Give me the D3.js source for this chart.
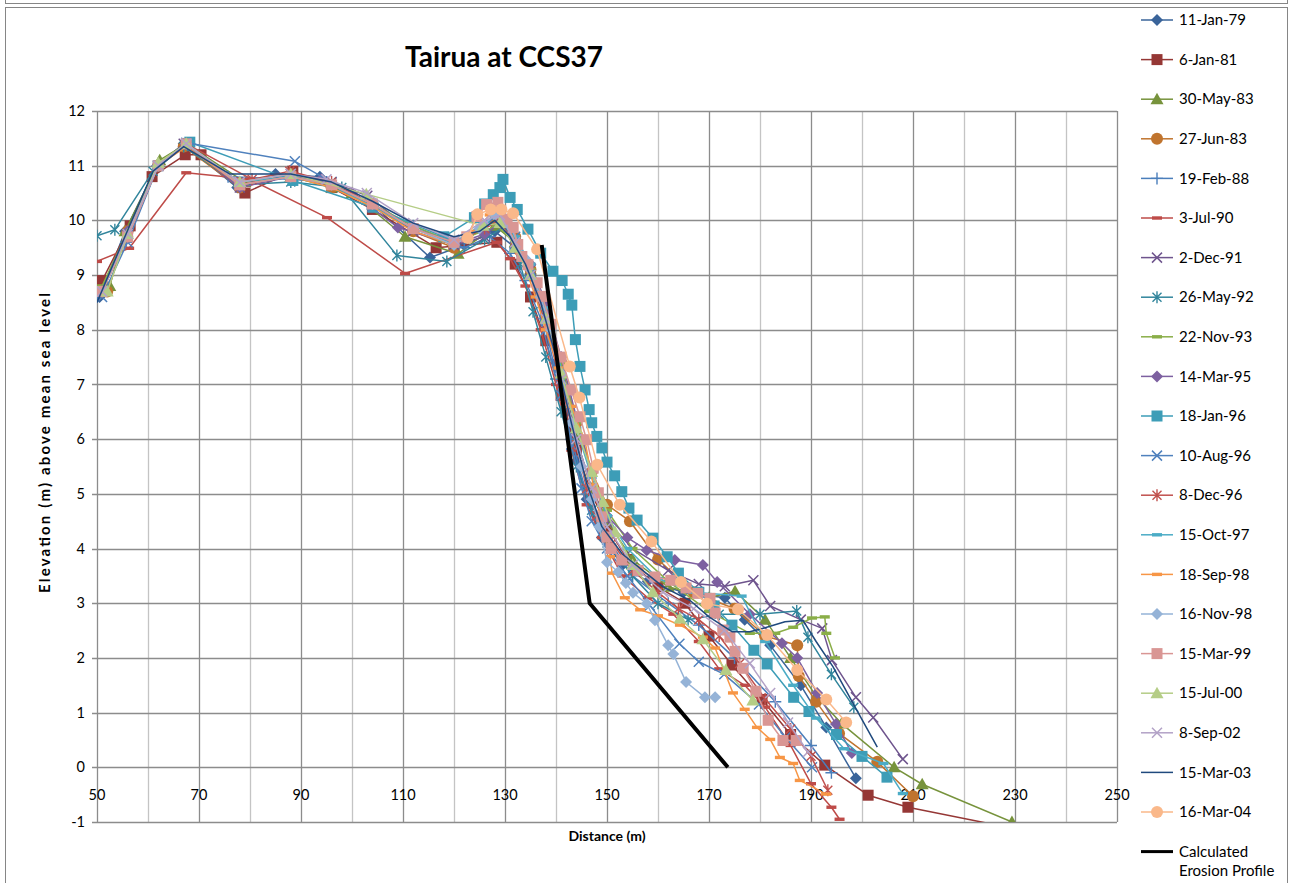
<!DOCTYPE html>
<html>
<head>
<meta charset="utf-8">
<style>
    body { margin: 0; background: #fff; font-family: Lato, 'Noto Sans', sans-serif; }
    svg text { fill: #000; }
</style>
</head>
<body>
<svg width="1293" height="883" id="chart"></svg>
<script src="https://d3js.org/d3.v7.min.js"></script>
<script>

// survey profiles: [distance (m), elevation (m)]
var jan79 = [[50.5,8.6],[55.5,9.8],[61.8,11.0],[67,11.4],[77.5,10.6],[85,10.85],[93.7,10.8],[104,10.3],[115.3,9.32],[122,9.55],[128,9.8],[132,9.5],[135,9.0],[138,8.2],[140,7.4],[142,6.5],[144,5.6],[146,4.9],[149,4.2],[153,3.7],[158,3.4],[165,3.2],[173.1,3.1],[177,2.7],[182,2.23],[188,1.5],[193,0.73],[198.8,-0.2]];
var jan81 = [[51,8.9],[56.5,9.9],[60.8,10.8],[67.3,11.2],[70.4,11.2],[79,10.5],[88.4,10.9],[96,10.6],[104,10.2],[116.5,9.5],[128.4,9.6],[132,9.2],[135,8.6],[138,7.8],[141,6.8],[144,5.8],[147,5.0],[150,4.4],[154,3.8],[160,3.3],[165.3,3.0],[170,2.4],[174.5,1.87],[180.4,1.24],[186,0.6],[192.7,0.04],[201.2,-0.51],[209,-0.73],[240,-1.31]];
var may83 = [[52.5,8.8],[55.5,9.8],[62.3,11.1],[67.5,11.4],[79,10.7],[88,10.8],[96,10.6],[100,10.5],[110.4,9.7],[120.8,9.39],[128,9.9],[132,9.6],[135,9.1],[138,8.3],[141,7.2],[144,6.0],[147,5.1],[150,4.5],[155,3.8],[162,3.3],[170,3.1],[175.1,3.22],[181,2.7],[186,2.0],[191,1.3],[196,0.8],[206.3,0.0],[211.8,-0.31],[229.4,-1.0]];
var jun83 = [[52,8.7],[56,9.8],[62,11.0],[67,11.35],[78,10.6],[88,10.85],[96,10.6],[104,10.3],[112,9.8],[120,9.5],[128,10.0],[132,9.7],[135,9.1],[138,8.4],[141,7.4],[144,6.3],[147,5.4],[150,4.8],[154.5,4.5],[160,3.8],[167,3.2],[175,2.9],[181,2.4],[187.3,2.23],[187.6,1.67],[191,1.2],[195.5,0.62],[203,0.1],[210,-0.53]];
var feb88 = [[50,8.6],[55.7,9.6],[62,11.0],[67.5,11.4],[75.7,10.8],[88,10.75],[95,10.7],[103,10.3],[112,9.9],[122,9.5],[127,9.7],[131,9.4],[134,8.9],[137,8.2],[140,7.1],[143,6.0],[146,5.0],[150,4.2],[155,3.5],[162,3.0],[168,2.6],[175,2.0],[183,1.2],[190,0.4],[194,-0.1]];
var jul90 = [[50,9.25],[56.3,9.49],[67.5,10.87],[80,10.75],[95.1,10.05],[110.4,9.03],[128.4,9.6],[131,9.3],[134,8.8],[137,8.0],[140,7.0],[143,5.8],[146,4.8],[149,4.2],[153,3.5],[158,3.1],[163,2.8],[168,2.3],[172,1.8],[177,1.5],[181,1.1],[186,0.4],[190,-0.3],[194,-0.73],[195.6,-0.95]];
var dec91 = [[51,8.7],[56,9.75],[62,11.0],[67,11.4],[78,10.6],[88,10.85],[96,10.7],[103,10.45],[112,9.8],[120,9.55],[126,9.7],[129,10.0],[132,9.6],[135,9.1],[138,8.3],[141,7.2],[144,6.0],[147,5.1],[150,4.5],[155,4.0],[162,3.6],[168,3.35],[173.1,3.31],[178.7,3.42],[182,2.95],[188,2.7],[192.2,2.54],[194.1,1.96],[198.8,1.28],[202.2,0.91],[208,0.15]];
var may92 = [[50,9.72],[53.5,9.83],[61,10.9],[67,11.35],[78,10.65],[88,10.7],[98,10.6],[108.8,9.36],[118.6,9.25],[126,9.65],[130,9.9],[133,9.2],[135.5,8.33],[138,7.5],[141,6.5],[144,5.5],[147,4.7],[150,4.1],[155,3.5],[160,3.0],[165.9,2.7],[172,2.8],[180,2.8],[187.2,2.86],[189.4,2.38],[194,1.7],[198.4,1.1]];
var nov93 = [[51,8.8],[56,9.8],[62,11.05],[67.5,11.4],[78,10.65],[88,10.8],[96,10.65],[104,10.3],[112,9.9],[120,9.6],[128.4,9.9],[132,9.6],[135,9.1],[138,8.4],[141,7.4],[144,6.3],[147,5.4],[150,4.7],[155,4.0],[162,3.4],[170,2.85],[178,2.45],[183,2.45],[186.5,2.56],[190.2,2.73],[192.7,2.75],[193,2.45],[194.7,2.0]];
var mar95 = [[51,8.7],[56,9.8],[62,11.0],[67.5,11.4],[78,10.6],[88,10.8],[94,10.75],[100,10.5],[109,9.87],[120,9.56],[126,9.75],[129,9.95],[132,9.6],[135,9.2],[138,8.5],[141,7.5],[144,6.4],[147,5.4],[150,4.6],[154,4.2],[157.8,3.97],[163.3,3.79],[168.8,3.7],[171.6,3.39],[178,2.8],[184.3,2.27],[187.3,2.0],[191.2,1.36],[194.9,0.79],[198,0.26]];
var jan96 = [[62,11.0],[68.2,11.43],[88.4,10.73],[104.1,10.24],[118,9.7],[124,10.05],[126,10.3],[127.7,10.47],[129,10.6],[129.6,10.75],[131,10.42],[132.4,10.2],[134.5,9.84],[137,9.4],[139.4,9.07],[141.2,8.9],[142.4,8.65],[143.1,8.45],[143.8,7.82],[144.7,7.33],[145.7,6.9],[146.5,6.54],[147,6.3],[148,6.05],[149,5.84],[150,5.58],[151.5,5.33],[152.9,5.04],[154.3,4.74],[155.9,4.52],[159,4.19],[161.8,3.85],[164,3.55],[168,3.2],[171,2.95],[174.5,2.6],[178.8,2.14],[181.4,1.89],[186.6,1.28],[189.6,1.02],[195,0.6],[200,0.2],[204.9,-0.18]];
var aug96 = [[51,8.6],[56,9.6],[62,11.0],[67.5,11.42],[88.8,11.08],[96,10.7],[104,10.25],[112,9.85],[120,9.6],[126,9.9],[129,10.15],[132,9.7],[135,9.0],[138,8.0],[141,6.8],[143,5.9],[145,5.1],[147,4.5],[150,4.0],[154,3.5],[158.4,2.96],[164.2,2.26],[168,1.93],[173,1.7],[179.8,1.15],[185,0.55],[190.2,0.0]];
var dec96 = [[51,8.7],[56,9.7],[62,11.0],[67.5,11.4],[80.4,10.75],[87.8,10.9],[96,10.7],[104,10.3],[112,9.85],[120,9.6],[126,9.85],[129,10.0],[132,9.5],[135,9.0],[138,8.1],[141,7.0],[144,5.9],[146,5.1],[148,4.6],[151,4.1],[155,3.6],[160,3.2],[164,2.9],[168,2.7],[172,2.4],[176,1.9],[181,1.25],[186,0.7],[190,0.2],[193.3,-0.42]];
var oct97 = [[51,8.7],[56,9.75],[62,11.0],[67.5,11.4],[78,10.7],[88,10.8],[96,10.65],[104,10.25],[112,9.85],[120,9.6],[126,9.95],[129,10.2],[132,9.7],[135,9.2],[138,8.4],[141,7.3],[144,6.2],[147,5.3],[150,4.6],[154,4.0],[160,3.45],[167,3.2],[176.4,3.13],[181,2.3],[186.5,1.5],[191,0.9],[196.5,0.34],[204.2,0.07],[208,-0.48]];
var sep98 = [[51,8.7],[56,9.7],[62,11.0],[67.5,11.35],[78,10.65],[88,10.8],[96,10.6],[104,10.25],[112,9.8],[120,9.55],[124,9.8],[127,10.1],[130,10.0],[133,9.4],[136,8.6],[138,8.0],[140.5,7.3],[143,6.6],[145.7,5.96],[147.3,5.16],[149.6,4.25],[150.6,3.85],[151,3.55],[153.5,3.1],[156.5,2.88],[160,2.77],[164.3,2.6],[168.8,2.38],[171.2,2.18],[174.7,1.36],[177,1.06],[179.4,0.73],[182,0.51],[183.9,0.18],[186.5,0.07],[187.8,-0.24],[193,-0.49]];
var nov98 = [[51,8.7],[56,9.7],[62,11.0],[67.5,11.4],[78,10.65],[88,10.8],[96,10.65],[104,10.3],[112,9.85],[120,9.55],[125,9.85],[128,10.1],[131,9.9],[134,9.3],[137,8.6],[139,8.0],[141,7.2],[143,6.3],[145,5.5],[147,4.9],[148.5,4.4],[150,3.75],[152.2,3.57],[153.7,3.37],[155.1,3.19],[157.8,2.99],[159.4,2.69],[162,2.23],[163,2.07],[165.5,1.56],[169.2,1.28],[171.2,1.28]];
var mar99 = [[51,8.7],[56,9.7],[62,11.0],[67.5,11.4],[78,10.65],[88,10.8],[96,10.65],[104,10.3],[112,9.85],[120,9.6],[122.5,9.7],[124.5,10.07],[126.4,10.29],[128.6,10.33],[130.4,10.02],[131.6,9.87],[132.5,9.56],[133.3,9.34],[134.5,9.19],[136.3,8.86],[137.3,8.61],[139,8.1],[141,7.5],[143,6.9],[144.7,6.41],[146,5.99],[147.3,5.47],[148.3,5.02],[149,4.58],[150,4.21],[150.8,4.0],[152.9,3.79],[156.1,3.6],[159.4,3.48],[162.5,3.42],[165.5,3.28],[167.8,3.18],[170.2,3.09],[171.2,2.82],[172.7,2.51],[174.1,2.38],[175.1,2.12],[176.7,1.81],[179.2,1.39],[181.6,0.86],[184.5,0.49],[187.1,0.49]];
var jul00 = [[52,8.7],[56,9.75],[62,11.05],[67.5,11.4],[78,10.7],[88,10.85],[102.8,10.48],[125.7,9.9],[129,9.95],[132,9.5],[135,9.0],[138,8.2],[141,7.2],[144,6.2],[147,5.4],[149.2,4.85],[151.6,4.3],[155,3.7],[159,3.2],[164.3,2.72],[168.8,2.34],[173.3,1.78],[178.6,1.22]];
var sep02 = [[51,8.7],[56,9.75],[62,11.0],[67.5,11.4],[78,10.7],[88,10.85],[95,10.75],[102.9,10.5],[112,9.95],[120,9.65],[126,10.0],[129,10.1],[132,9.6],[135,9.0],[138,8.2],[141,7.1],[144,6.0],[147,5.1],[150,4.4],[155,3.7],[161,3.2],[167,2.9],[173,2.5],[178,1.9],[182,1.36],[185.5,0.82],[189.4,0.28]];
var mar03 = [[50,8.5],[55,9.6],[61,10.9],[67,11.35],[76,10.85],[88,10.85],[96,10.7],[104,10.35],[112,9.95],[120,9.7],[125,9.8],[128,10.0],[131,9.7],[134,9.2],[137,8.5],[140,7.5],[143,6.3],[146,5.2],[149,4.4],[153,3.9],[157,3.6],[161,3.3],[166.3,3.05],[170,2.75],[174.5,2.48],[178,2.48],[181,2.55],[184.9,2.66],[188.4,2.69],[191,2.3],[194.3,1.84],[199,1.04],[203,0.37]];
var mar04 = [[122.7,9.68],[124.6,10.11],[127.2,10.2],[129.3,10.2],[131.6,10.13],[136.3,9.47],[142.7,7.33],[144.6,6.76],[148.1,5.53],[152.5,4.8],[158.7,4.13],[164.5,3.39],[169.6,2.99],[175.7,2.89],[181.4,2.42],[187.3,1.78],[193,1.24],[196.9,0.82]];
var erosion = [[137.2,9.55],[146.6,3.0],[173.7,0]];

var seriesNames = ["11-Jan-79","6-Jan-81","30-May-83","27-Jun-83","19-Feb-88","3-Jul-90","2-Dec-91","26-May-92","22-Nov-93","14-Mar-95","18-Jan-96","10-Aug-96","8-Dec-96","15-Oct-97","18-Sep-98","16-Nov-98","15-Mar-99","15-Jul-00","8-Sep-02","15-Mar-03","16-Mar-04","Calculated Erosion Profile"];
var seriesData = [jan79, jan81, may83, jun83, feb88, jul90, dec91, may92, nov93, mar95, jan96, aug96, dec96, oct97, sep98, nov98, mar99, jul00, sep02, mar03, mar04, erosion];

var xTicks = [50,70,90,110,130,150,170,190,210,230,250];
var yTicks = [-1,0,1,2,3,4,5,6,7,8,9,10,11,12];

// styling
var colors = ["#3A649A","#953735","#77933C","#C0742E","#4A7EBB","#BE4B48","#6E548D","#31859C","#8AAE48","#7D60A0","#3D9DB7","#4F81BD","#C0504D","#4BACC6","#F79646","#95B3D7","#D99694","#B5CD86","#B3A2C7","#1F497D","#FAB88A","#000000"];
var markers = ["diamond","square","triangle","circle","plus","dash","x","star","dash","diamond","square","x","star","dash","dash","diamond","square","triangle","x","none","circle","none"];

var svg = d3.select("svg");

// outer frames
svg.append("rect").attr("x", 5.5).attr("y", -10).attr("width", 1282).attr("height", 13.5)
    .attr("fill", "none").attr("stroke", "#868686");
svg.append("rect").attr("x", 5.5).attr("y", 7.5).attr("width", 1282).attr("height", 890)
    .attr("fill", "#fff").attr("stroke", "#868686");

var x = d3.scaleLinear().domain([50, 250]).range([97, 1117]);
var y = d3.scaleLinear().domain([-1, 12]).range([822, 111]);

// grid
var g = svg.append("g");
g.selectAll(".vg").data(d3.range(50, 251, 10)).enter().append("line")
    .attr("x1", function(d) { return Math.round(x(d)) + 0.5; })
    .attr("x2", function(d) { return Math.round(x(d)) + 0.5; })
    .attr("y1", y(12)).attr("y2", y(-1))
    .attr("stroke", function(d) { return (d - 50) % 20 === 0 ? "#8c8c8c" : "#c4c4c4"; })
    .attr("stroke-width", 1.3);
g.selectAll(".hg").data(yTicks).enter().append("line")
    .attr("x1", x(50) - 5).attr("x2", x(250))
    .attr("y1", function(d) { return Math.round(y(d)) + 0.5; })
    .attr("y2", function(d) { return Math.round(y(d)) + 0.5; })
    .attr("stroke", "#8c8c8c").attr("stroke-width", 1.3);

// axis labels
g.selectAll(".yl").data(yTicks).enter().append("text")
    .attr("x", 85).attr("y", function(d) { return y(d); })
    .attr("dy", "0.35em").attr("text-anchor", "end").attr("font-size", 14.5)
    .text(function(d) { return d; });
g.selectAll(".xl").data(xTicks).enter().append("text")
    .attr("x", function(d) { return x(d); }).attr("y", y(0) + 33)
    .attr("text-anchor", "middle").attr("font-size", 14.5)
    .text(function(d) { return d; });

svg.append("text").attr("x", 504).attr("y", 67).attr("text-anchor", "middle")
    .attr("font-size", 28).attr("font-weight", "bold").text("Tairua at CCS37");
svg.append("text").attr("x", 607).attr("y", 841).attr("text-anchor", "middle")
    .attr("font-size", 14).attr("font-weight", "bold").text("Distance  (m)");
svg.append("text").attr("transform", "translate(50,443) rotate(-90)").attr("text-anchor", "middle")
    .attr("font-size", 15).attr("font-weight", "bold")
    .attr("textLength", 300).attr("lengthAdjust", "spacing").text("Elevation (m) above mean sea level");

svg.append("clipPath").attr("id", "plot").append("rect")
    .attr("x", x(50)).attr("y", y(12) - 6).attr("width", x(250) - x(50)).attr("height", y(-1) - y(12) + 6);

function drawMarker(sel, type, color) {
    if (type === "diamond") sel.append("path").attr("d", "M0,-6L6,0L0,6L-6,0Z").attr("fill", color);
    else if (type === "square") sel.append("rect").attr("x", -5.5).attr("y", -5.5).attr("width", 11).attr("height", 11).attr("fill", color);
    else if (type === "triangle") sel.append("path").attr("d", "M0,-6.5L6.5,5L-6.5,5Z").attr("fill", color);
    else if (type === "circle") sel.append("circle").attr("r", 6).attr("fill", color);
    else if (type === "plus") sel.append("path").attr("d", "M-6,0H6M0,-6V6").attr("stroke", color).attr("stroke-width", 1.4);
    else if (type === "dash") sel.append("rect").attr("x", -5).attr("y", -1.7).attr("width", 10).attr("height", 3.4).attr("fill", color);
    else if (type === "x") sel.append("path").attr("d", "M-5,-5L5,5M-5,5L5,-5").attr("stroke", color).attr("stroke-width", 1.5);
    else if (type === "star") sel.append("path").attr("d", "M-4.5,-4.5L4.5,4.5M-4.5,4.5L4.5,-4.5M0,-6V6").attr("stroke", color).attr("stroke-width", 1.4);
}

var line = d3.line().x(function(d) { return x(d[0]); }).y(function(d) { return y(d[1]); });
var plot = svg.append("g").attr("clip-path", "url(#plot)");

seriesData.forEach(function(data, i) {
    var sg = plot.append("g");
    sg.append("path").datum(data).attr("d", line).attr("fill", "none")
        .attr("stroke", colors[i]).attr("stroke-width", i === 21 ? 4 : 1.5)
        .attr("stroke-linejoin", "round");
    if (markers[i] !== "none") {
        sg.selectAll("g").data(data).enter().append("g")
            .attr("transform", function(d) { return "translate(" + x(d[0]) + "," + y(d[1]) + ")"; })
            .each(function() { drawMarker(d3.select(this), markers[i], colors[i]); });
    }
});

// legend
var legend = svg.append("g").selectAll("g").data(seriesNames).enter().append("g")
    .attr("transform", function(d, i) { return "translate(0," + (20 + i * 39.6) + ")"; });
legend.append("line").attr("x1", 1141).attr("x2", 1173).attr("y1", 0).attr("y2", 0)
    .attr("stroke", function(d, i) { return colors[i]; })
    .attr("stroke-width", function(d, i) { return i === 21 ? 3 : 1.5; });
legend.each(function(d, i) {
    if (markers[i] !== "none") {
        drawMarker(d3.select(this).append("g").attr("transform", "translate(1157,0)"), markers[i], colors[i]);
    }
});
legend.append("text").attr("x", 1179).attr("dy", "0.35em").attr("font-size", 15)
    .each(function(d) {
        var t = d3.select(this);
        if (d === "Calculated Erosion Profile") {
            t.append("tspan").attr("x", 1179).text("Calculated");
            t.append("tspan").attr("x", 1179).attr("dy", "1.25em").text("Erosion Profile");
        } else {
            t.text(d);
        }
    });

</script>
</body>
</html>
